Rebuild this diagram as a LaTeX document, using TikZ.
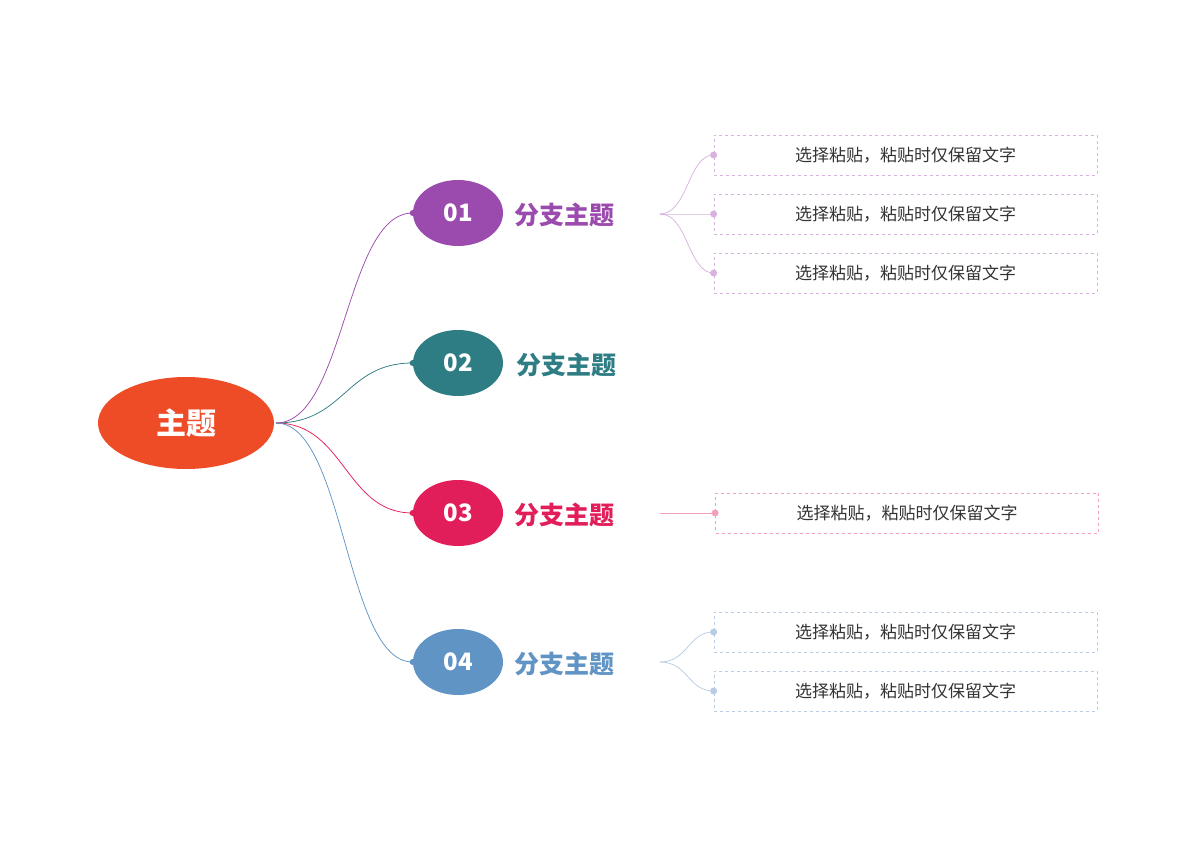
\documentclass[tikz,border=0pt]{standalone}
\usepackage{fontspec}
\setmainfont{Noto Sans CJK SC}
\usetikzlibrary{shapes.geometric,calc}
\definecolor{cRoot}{RGB}{238,75,39}
\definecolor{cA}{RGB}{155,75,173}
\definecolor{cB}{RGB}{46,125,132}
\definecolor{cC}{RGB}{226,30,90}
\definecolor{cD}{RGB}{96,148,197}
\definecolor{lA}{RGB}{217,179,224}
\definecolor{lC}{RGB}{242,160,184}
\definecolor{lD}{RGB}{184,205,227}
\tikzset{every picture/.style={line width=0.75pt}}
\tikzset{
  bnum/.style={ellipse,minimum width=90,minimum height=66,inner sep=0,text=white,font=\fontsize{24}{24}\selectfont\bfseries},
  blabel/.style={anchor=west,font=\fontsize{25}{25}\selectfont\bfseries,inner sep=0},
  leaf/.style={draw,dashed,minimum width=383,minimum height=40,inner sep=0,text=black!80,font=\fontsize{17}{17}\selectfont},
  dot/.style={circle,fill,inner sep=0,minimum size=7},
}
\begin{document}
\begin{tikzpicture}[x=1pt,y=-1pt]
\useasboundingbox (0,0) rectangle (1200,848);

% root
\node[ellipse,fill=cRoot,minimum width=176,minimum height=92,text=white,font=\fontsize{30}{30}\selectfont\bfseries] (root) at (186,423) {主题};

% branches
\node[bnum,fill=cA] (b1) at (458,213) {01};
\node[bnum,fill=cB] (b2) at (458,363) {02};
\node[bnum,fill=cC] (b3) at (458,513) {03};
\node[bnum,fill=cD] (b4) at (458,662) {04};
\node[blabel,text=cA] (t1) at (514,215) {分支主题};
\node[blabel,text=cB] (t2) at (516,365) {分支主题};
\node[blabel,text=cC] (t3) at (514,515) {分支主题};
\node[blabel,text=cD] (t4) at (514,664) {分支主题};

\coordinate (r) at (276,423);
\coordinate (vx) at (345,0);
\foreach \b/\c in {b1/cA,b2/cB,b3/cC,b4/cD}{
  \draw[\c] (r) .. controls (vx |- r) and (vx |- \b.west) .. (\b.west);
  \node[dot,fill=\c,minimum size=6] at (\b.west) {};
}

% leaves
\node[leaf,draw=lA] (l11) at (905.5,155) {选择粘贴，粘贴时仅保留文字};
\node[leaf,draw=lA] (l12) at (905.5,214) {选择粘贴，粘贴时仅保留文字};
\node[leaf,draw=lA] (l13) at (905.5,273) {选择粘贴，粘贴时仅保留文字};
\node[leaf,draw=lC] (l31) at (907,513) {选择粘贴，粘贴时仅保留文字};
\node[leaf,draw=lD] (l41) at (905.5,632) {选择粘贴，粘贴时仅保留文字};
\node[leaf,draw=lD] (l42) at (905.5,691) {选择粘贴，粘贴时仅保留文字};

\coordinate (s1) at (660,214);
\coordinate (s3) at (660,513);
\coordinate (s4) at (660,662);
\coordinate (wx) at (688,0);
\foreach \s/\l/\c in {s1/l11/lA,s1/l12/lA,s1/l13/lA,s3/l31/lC,s4/l41/lD,s4/l42/lD}{
  \draw[\c] (\s) .. controls (wx |- \s) and (wx |- \l.west) .. (\l.west);
  \node[dot,fill=\c] at (\l.west) {};
}
\end{tikzpicture}
\end{document}
